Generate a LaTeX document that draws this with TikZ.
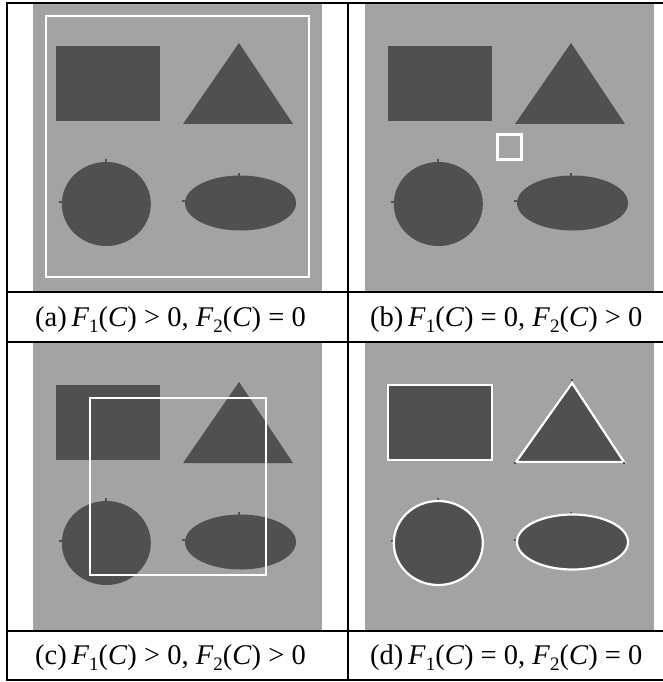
\documentclass[tikz,border=0pt]{standalone}
\usepackage{fontspec}
\setmainfont{Liberation Serif}
\usepackage{tikz}
\usetikzlibrary{positioning}
\definecolor{panelGray}{HTML}{A3A3A3}
\definecolor{shapeDark}{HTML}{505050}
\tikzset{
  tableLine/.style={draw=black, line width=2pt},
  panel/.style={fill=panelGray},
  shapeFill/.style={fill=shapeDark},
  contour/.style={draw=white, line width=2.2pt},
  tick/.style={fill=shapeDark},
  caption/.style={anchor=base west, inner sep=0pt, font=\fontsize{28.5}{32}\selectfont}
}
\newcommand{\Fc}[1]{\textit{F}\raisebox{-6.5pt}{\fontsize{19}{19}\selectfont #1}(\textit{C})}
% one gray image with the four test shapes, 289 x 287 px
\newcommand{\drawShapes}{%
  \fill[panel] (0,0) rectangle (289,287);
  \fill[shapeFill] (23,42) rectangle (127,117);
  \fill[shapeFill] (150,120) -- (206,39) -- (260,120) -- cycle;
  \fill[shapeFill] (73.3,200) ellipse [x radius=44.5, y radius=42];
  \fill[shapeFill] (207.5,199) ellipse [x radius=55.5, y radius=27.5];
  \fill[tick] (72,155) rectangle (74,158);
  \fill[tick] (26,197) rectangle (29,199);
  \fill[tick] (205,169) rectangle (207,172);
  \fill[tick] (149,196) rectangle (152,198);
}

\begin{document}
\begin{tikzpicture}[x=1pt, y=-1pt]
  \useasboundingbox[fill=white] (0,0) rectangle (663,682);

  % (a) large contour round all shapes
  \begin{scope}[shift={(33,4)}]
    \drawShapes
    \draw[contour] (13,12) rectangle (276,273);
  \end{scope}
  % (b) small contour in the background
  \begin{scope}[shift={(365,4)}]
    \drawShapes
    \draw[contour, line width=3pt] (132.5,130.5) rectangle (156.5,155.5);
  \end{scope}
  % (c) contour across the objects
  \begin{scope}[shift={(33,343)}]
    \drawShapes
    \draw[contour] (57,55) rectangle (233,232);
  \end{scope}
  % (d) contour on the boundaries
  \begin{scope}[shift={(365,343)}]
    \drawShapes
    \draw[contour] (23,42) rectangle (127,117);
    \draw[contour] (151,119) -- (207,40) -- (259,119) -- cycle;
    \draw[contour] (73.3,200) ellipse [x radius=44.5, y radius=42];
    \draw[contour] (207.5,199) ellipse [x radius=55.5, y radius=27.5];
    \fill[tick] (206,36) rectangle (208,38);
    \fill[tick] (149,119) rectangle (151,121);
    \fill[tick] (258,119) rectangle (260,121);
  \end{scope}

  % table rules
  \coordinate (tl) at (7,3);
  \coordinate (bl) at (7,680);
  \coordinate (tm) at (348,3);
  \coordinate (bm) at (348,680);
  \draw[tableLine] (tl) -- (bl);
  \draw[tableLine] (tm) -- (bm);
  \foreach \yy in {3,292,342,631,680}
    \draw[tableLine] (6,\yy) -- (663,\yy);

  % captions
  \node[caption] (capA) at (35,326) {(a)\,\Fc{1}~>~0, \Fc{2}~=~0};
  \node[caption] (capB) at (370,326) {(b)\,\Fc{1}~=~0, \Fc{2}~>~0};
  \node[caption] (capC) at (35,664) {(c)\,\Fc{1}~>~0, \Fc{2}~>~0};
  \node[caption] (capD) at (370,664) {(d)\,\Fc{1}~=~0, \Fc{2}~=~0};
\end{tikzpicture}
\end{document}
